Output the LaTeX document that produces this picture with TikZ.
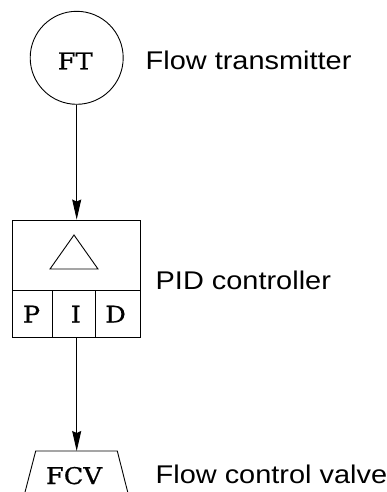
\documentclass[tikz,border=0pt]{standalone}
\usepackage{fontspec}
\newfontfamily\labelfont[FakeStretch=1.13]{Liberation Sans}
\newfontfamily\symfont[FakeStretch=1.12,FakeBold=0.6]{DejaVu Serif}
\usetikzlibrary{arrows.meta}
\tikzset{
  line/.style={line width=0.9pt, draw=black},
  arr/.style={line width=0.9pt, -{Stealth[length=20pt,width=9pt,inset=2pt]}},
  lbl/.style={anchor=base west, inner sep=0pt, font=\labelfont\fontsize{25.6}{30}\selectfont},
  sym/.style={anchor=base, inner sep=0pt, font=\symfont\fontsize{23}{27}\selectfont},
  circ/.style={circle, draw, line width=0.9pt, minimum size=93pt, inner sep=0pt},
  pidbox/.style={rectangle, draw, line width=0.9pt, minimum width=128pt, minimum height=117pt, inner sep=0pt}
}
\begin{document}
\begin{tikzpicture}[x=1pt,y=1pt]
\useasboundingbox (0,0) rectangle (387,-492);
% flow transmitter
\node[circ] (ft) at (76.7,-57.8) {};
\node[sym] (fttext) at (75.2,-69.3) {FT};
\node[lbl] (ftlabel) at (145.5,-69.3) {Flow transmitter};
% PID controller
\node[pidbox] (pid) at (76,-278.5) {};
\coordinate (divl) at (12,-290);
\coordinate (divr) at (140,-290);
\draw[line] (divl) -- (divr);
\draw[line] (52,-290) -- (52,-337);
\draw[line] (95,-290) -- (95,-337);
\draw[line] (74,-235) -- (98,-269) -- (50,-269) -- cycle;
\node[sym] (p) at (31.5,-322.5) {P};
\node[sym] (i) at (75.8,-322.5) {I};
\node[sym] (d) at (115.5,-322.5) {D};
\node[lbl] (pidlabel) at (155.5,-289.3) {PID controller};
% valve
\coordinate (fcvtop) at (76.7,-451);
\draw[line] (23.5,-498) -- (35.7,-451) -- (117.3,-451) -- (129.2,-498);
\node[sym] (fcv) at (74,-484) {FCV};
\node[lbl] (fcvlabel) at (155.5,-483.3) {Flow control valve};
% connectors
\draw[arr] (ft.south) -- (ft.south |- pid.north);
\draw[arr] (ft.south |- pid.south) -- (fcvtop);
\end{tikzpicture}
\end{document}
